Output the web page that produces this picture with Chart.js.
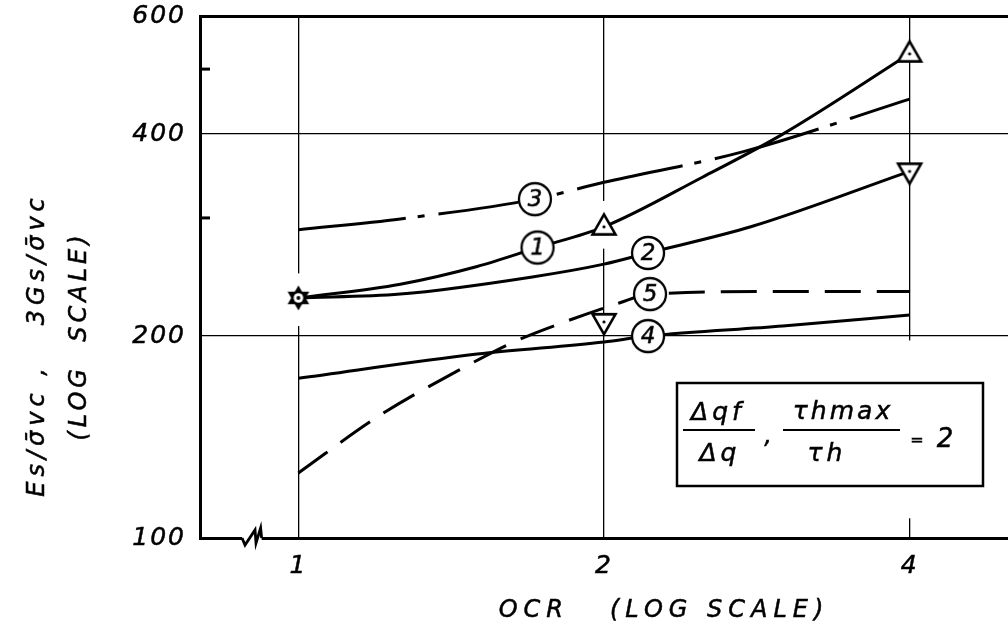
<!DOCTYPE html>
<html lang="en">
<head>
<meta charset="UTF-8">
<title>Es/σvc and 3Gs/σvc vs OCR</title>
<script src="https://cdn.jsdelivr.net/npm/chart.js"></script>
<style>
  html, body { margin: 0; padding: 0; background: #fff; }
  #wrap { width: 1008px; height: 631px; }
</style>
</head>
<body>
<div id="wrap"><canvas id="chart" width="1008" height="631"></canvas></div>
<script>
// axis ticks
const xTicks = [1, 2, 4];
const yTicks = [100, 200, 400, 600];
const yMinorTicks = [300, 500];

// curve 1 (solid, ends on triangles)
const ocr1 = [1, 1.26, 1.5, 1.72, 2, 2.5, 3, 4];
const curve1 = [228, 239, 254, 271, 291, 345, 400, 527];
// curve 2 (solid)
const ocr2 = [1, 1.26, 1.7, 2, 2.21, 2.79, 4];
const curve2 = [228, 231, 245, 256, 266, 291, 352];
// curve 3 (dash-dot)
const ocr3 = [1, 1.26, 1.71, 2, 2.75, 4];
const curve3 = [288, 299, 320, 339, 377, 451];
// curve 4 (solid)
const ocr4 = [1, 1.5, 2, 2.21, 3, 4];
const curve4 = [173, 188, 196, 200, 207, 215];
// curve 5 (dashed)
const ocr5 = [1, 1.2, 1.46, 1.63, 1.83, 2.07, 2.22, 3, 4];
const curve5 = [125, 152, 180, 196, 210, 224, 231, 233, 233];

// measured points
const markerX = [1, 2, 4, 2, 4];
const markerY = [228, 291, 527, 210, 352];
const markerKind = ['star', 'up', 'up', 'down', 'down'];

// circled curve numbers
const labelText = ['1', '2', '3', '4', '5'];
const labelX = [1.72, 2.21, 1.71, 2.21, 2.22];
const labelY = [271, 266, 320, 200, 231];

// breaks left in the vertical grid lines around the symbols: [OCR, from, to]
const gridGaps = [[1, 207, 248], [2, 270, 318], [4, 107, 197]];

const FONT = '"DejaVu Sans", sans-serif';

function pts(xs, ys) {
    return xs.map((x, i) => ({ x: x, y: ys[i] }));
}

// small canvases used as point styles
function markerCanvas(kind) {
    const c = document.createElement('canvas');
    c.width = 32; c.height = 32;
    const g = c.getContext('2d');
    const m = 16;
    g.strokeStyle = '#000';
    g.fillStyle = '#000';
    if (kind === 'star') {
        const r = 12.5;
        for (const rot of [0, Math.PI]) {
            g.beginPath();
            for (let k = 0; k < 3; k++) {
                const a = rot - Math.PI / 2 + k * 2 * Math.PI / 3;
                const px = m + r * Math.cos(a), py = m + r * Math.sin(a);
                if (k === 0) g.moveTo(px, py); else g.lineTo(px, py);
            }
            g.closePath();
            g.fill();
        }
        g.fillStyle = '#fff';
        g.beginPath(); g.arc(m, m, 4.8, 0, Math.PI * 2); g.fill();
        g.fillStyle = '#000';
        g.beginPath(); g.arc(m, m, 1.9, 0, Math.PI * 2); g.fill();
    } else {
        const s = kind === 'up' ? 1 : -1;
        const h = 20, w = 23;
        g.lineWidth = 2.6;
        g.beginPath();
        g.moveTo(m, m - s * h * 0.62);
        g.lineTo(m + w / 2, m + s * h * 0.38);
        g.lineTo(m - w / 2, m + s * h * 0.38);
        g.closePath();
        g.fillStyle = '#fff';
        g.fill();
        g.stroke();
        g.fillStyle = '#000';
        g.beginPath(); g.arc(m, m, 1.6, 0, Math.PI * 2); g.fill();
    }
    return c;
}

function labelCanvas(t) {
    const c = document.createElement('canvas');
    c.width = 38; c.height = 38;
    const g = c.getContext('2d');
    g.beginPath();
    g.arc(19, 19, 16, 0, Math.PI * 2);
    g.fillStyle = '#fff';
    g.fill();
    g.lineWidth = 2.3;
    g.strokeStyle = '#000';
    g.stroke();
    g.fillStyle = '#000';
    g.font = 'italic 23px ' + FONT;
    g.textAlign = 'center';
    g.textBaseline = 'middle';
    g.lineWidth = 0.5;
    g.fillText(t, 19, 20);
    g.strokeText(t, 19, 20);
    return c;
}

// text with a thin outline so it reads like pen lettering
function drawText(ctx, s, x, y, size, align, spacing) {
    ctx.font = 'italic ' + size + 'px ' + FONT;
    ctx.letterSpacing = (spacing || 0) + 'px';
    ctx.textAlign = align || 'center';
    ctx.textBaseline = 'middle';
    ctx.fillStyle = '#000';
    ctx.strokeStyle = '#000';
    ctx.lineWidth = 0.5;
    ctx.fillText(s, x, y);
    ctx.strokeText(s, x, y);
}

function hLine(ctx, x1, x2, y, w) {
    ctx.beginPath();
    ctx.moveTo(x1, y);
    ctx.lineTo(x2, y);
    ctx.lineWidth = w;
    ctx.strokeStyle = '#000';
    ctx.stroke();
}

const decor = {
    id: 'decor',
    beforeDraw(chart) {
        const ctx = chart.ctx;
        ctx.save();
        ctx.fillStyle = '#fff';
        ctx.fillRect(0, 0, chart.width, chart.height);
        ctx.restore();
        ctx.letterSpacing = '2px';
    },
    beforeDatasetsDraw(chart) {
        const ctx = chart.ctx;
        const xs = chart.scales.x, ys = chart.scales.y;
        const area = chart.chartArea;
        ctx.save();
        ctx.fillStyle = '#fff';
        for (const [gx, lo, hi] of gridGaps) {
            const px = xs.getPixelForValue(gx);
            const top = ys.getPixelForValue(hi), bottom = ys.getPixelForValue(lo);
            ctx.fillRect(px - 2, top, 4, bottom - top);
        }
        // short minor ticks on the left axis
        for (const v of yMinorTicks) {
            hLine(ctx, area.left, area.left + 10, ys.getPixelForValue(v), 3);
        }
        // axis break
        const bx1 = xs.getPixelForValue(0.88), bx2 = xs.getPixelForValue(0.92);
        const by = area.bottom;
        ctx.fillRect(bx1, by - 3, bx2 - bx1, 6);
        ctx.beginPath();
        ctx.moveTo(bx1, by);
        ctx.lineTo(bx1 + 3, by + 7);
        ctx.lineTo(bx1 + 13, by - 8);
        ctx.lineTo(bx1 + 14, by + 5);
        ctx.lineTo(bx2 - 1, by - 10);
        ctx.lineTo(bx2, by);
        ctx.lineWidth = 2.8;
        ctx.lineJoin = 'miter';
        ctx.strokeStyle = '#000';
        ctx.stroke();
        ctx.restore();
    },
    afterDraw(chart) {
        const ctx = chart.ctx;
        ctx.save();
        // x axis title
        drawText(ctx, 'OCR   (LOG SCALE)', 664, 611, 24, 'center', 6);
        // y axis title, two rotated lines
        ctx.save();
        ctx.translate(38, 345);
        ctx.rotate(-Math.PI / 2);
        drawText(ctx, 'Es/σ̄vc ,   3Gs/σ̄vc', 0, 0, 24, 'center', 5);
        ctx.restore();
        ctx.save();
        ctx.translate(80, 336);
        ctx.rotate(-Math.PI / 2);
        drawText(ctx, '(LOG  SCALE)', 0, 0, 24, 'center', 4);
        ctx.restore();
        // boxed note
        ctx.lineWidth = 2.5;
        ctx.strokeStyle = '#000';
        ctx.strokeRect(677, 383, 306, 103);
        drawText(ctx, 'Δqf', 718, 413, 25, 'center', 4);
        hLine(ctx, 683, 755, 430, 2.2);
        drawText(ctx, 'Δq', 720, 454, 25, 'center', 4);
        drawText(ctx, ',', 768, 437, 24, 'center', 0);
        drawText(ctx, 'τhmax', 843, 412, 25, 'center', 3);
        hLine(ctx, 783, 900, 430, 2.2);
        drawText(ctx, 'τh', 827, 454, 25, 'center', 4);
        drawText(ctx, '=', 917, 441, 16, 'center', 0);
        drawText(ctx, '2', 945, 440, 26, 'center', 0);
        ctx.restore();
    }
};

const lineStyle = {
    borderColor: '#000',
    borderWidth: 3,
    pointRadius: 0,
    fill: false,
    cubicInterpolationMode: 'monotone',
    order: 5
};

const tickFont = { family: FONT, style: 'italic', size: 25 };

new Chart(document.getElementById('chart'), {
    type: 'line',
    data: {
        datasets: [
            Object.assign({ label: '1', data: pts(ocr1, curve1) }, lineStyle),
            Object.assign({ label: '2', data: pts(ocr2, curve2) }, lineStyle),
            Object.assign({ label: '3', data: pts(ocr3, curve3), borderDash: [108, 12, 7, 14] }, lineStyle),
            Object.assign({ label: '4', data: pts(ocr4, curve4) }, lineStyle),
            Object.assign({ label: '5', data: pts(ocr5, curve5), borderDash: [36, 16] }, lineStyle),
            {
                label: 'points',
                data: pts(markerX, markerY),
                showLine: false,
                pointStyle: markerKind.map(markerCanvas),
                pointRadius: 12,
                order: 2
            },
            {
                label: 'numbers',
                data: pts(labelX, labelY),
                showLine: false,
                pointStyle: labelText.map(labelCanvas),
                pointRadius: 17,
                order: 1
            }
        ]
    },
    options: {
        responsive: false,
        animation: false,
        devicePixelRatio: 1,
        layout: { autoPadding: false, padding: { top: 16, right: 0, left: 0, bottom: 0 } },
        plugins: {
            legend: { display: false },
            tooltip: { enabled: false }
        },
        scales: {
            x: {
                type: 'logarithmic',
                min: 0.8,
                max: 5,
                afterBuildTicks: (scale) => { scale.ticks = xTicks.map(v => ({ value: v })); },
                afterFit: (scale) => {
                    scale.height = 93;
                    scale.paddingLeft = 0;
                    scale.paddingRight = 0;
                },
                grid: { color: '#000', lineWidth: 1.3, drawTicks: false },
                border: { display: true, color: '#000', width: 3 },
                ticks: {
                    autoSkip: false,
                    maxRotation: 0,
                    padding: 13,
                    color: '#000',
                    textStrokeColor: '#000',
                    textStrokeWidth: 0.5,
                    font: tickFont,
                    callback: (v) => String(v)
                }
            },
            y: {
                type: 'logarithmic',
                min: 100,
                max: 600,
                afterBuildTicks: (scale) => { scale.ticks = yTicks.map(v => ({ value: v })); },
                afterFit: (scale) => {
                    scale.width = 200;
                    scale.paddingTop = 0;
                    scale.paddingBottom = 0;
                },
                grid: {
                    color: '#000',
                    lineWidth: (c) => (c.tick && c.tick.value === 600 ? 3 : 1.3),
                    drawTicks: false
                },
                border: { display: true, color: '#000', width: 3 },
                ticks: {
                    autoSkip: false,
                    padding: 14,
                    color: '#000',
                    textStrokeColor: '#000',
                    textStrokeWidth: 0.5,
                    font: tickFont,
                    callback: (v) => String(v)
                }
            }
        }
    },
    plugins: [decor]
});
</script>
</body>
</html>
